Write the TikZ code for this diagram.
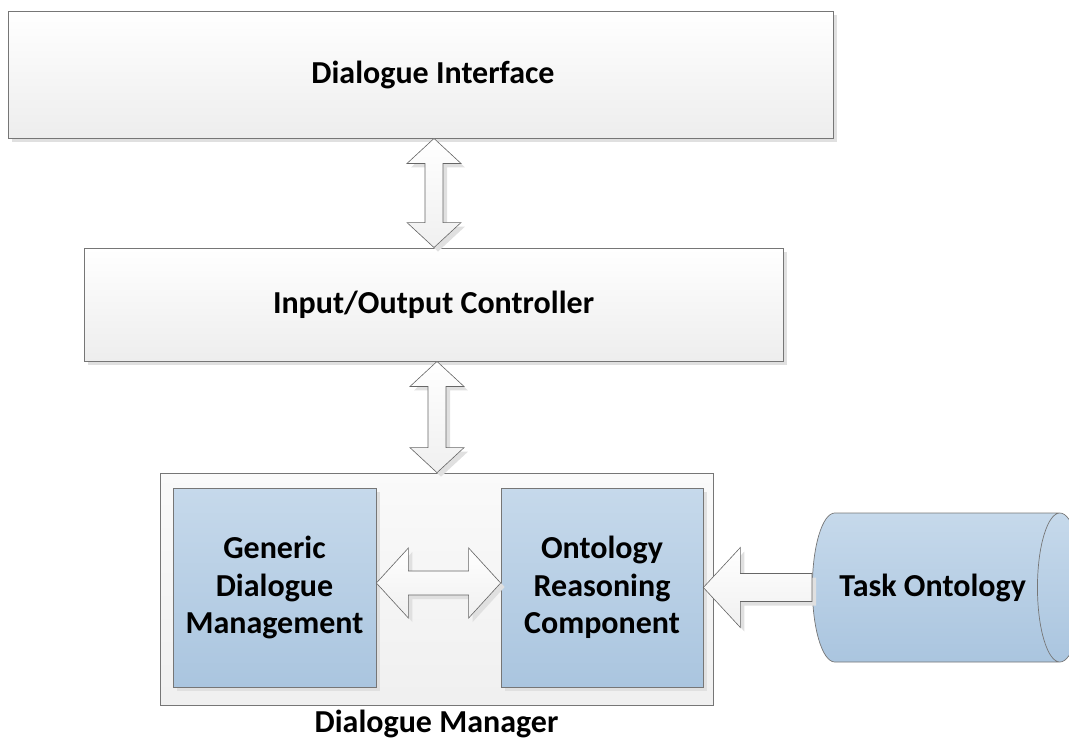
\documentclass[tikz,border=0pt]{standalone}
\usepackage{fontspec}
\setmainfont{Carlito}
\usetikzlibrary{positioning, shapes.geometric, shadows, calc}

\definecolor{boxline}{RGB}{118,118,118}
\definecolor{bluetop}{RGB}{198,217,235}
\definecolor{bluebot}{RGB}{170,197,223}

\tikzset{
    txt/.style={font=\bfseries\fontsize{32}{37.5}\selectfont, align=center},
    soft shadow/.style={drop shadow={shadow xshift=4pt, shadow yshift=-4pt, fill=black!12, opacity=1}},
    layer box/.style={txt, draw=boxline, line width=0.9pt, top color=white, bottom color=black!7, soft shadow},
    manager box/.style={draw=boxline, line width=0.7pt, top color=black!2, bottom color=black!6},
    part box/.style={txt, draw=boxline, line width=0.7pt, top color=bluetop, bottom color=bluebot, soft shadow},
    store/.style={txt, cylinder, draw=boxline, line width=0.7pt, top color=bluetop, bottom color=bluebot, aspect=1.3},
    fat arrow/.style={draw=black!60, line width=0.6pt, top color=white, bottom color=black!6, soft shadow}
}

% up/down arrow between two stacked boxes
\newcommand{\vfatarrow}[2]{%
    \draw[fat arrow] let \p1=(#1), \p2=(#2) in
        (\p1) -- (\x1+27pt,\y1-25pt) -- (\x1+9pt,\y1-25pt) -- (\x1+9pt,\y2+25pt)
        -- (\x1+27pt,\y2+25pt) -- (\p2) -- (\x1-27pt,\y2+25pt) -- (\x1-9pt,\y2+25pt)
        -- (\x1-9pt,\y1-25pt) -- (\x1-27pt,\y1-25pt) -- cycle;
}
% left/right arrow
\newcommand{\hfatarrow}[2]{%
    \draw[fat arrow] let \p1=(#1), \p2=(#2) in
        (\p1) -- (\x1+32pt,\y1+35pt) -- (\x1+32pt,\y1+12pt) -- (\x2-32pt,\y1+12pt)
        -- (\x2-32pt,\y1+35pt) -- (\p2) -- (\x2-32pt,\y1-35pt) -- (\x2-32pt,\y1-12pt)
        -- (\x1+32pt,\y1-12pt) -- (\x1+32pt,\y1-35pt) -- cycle;
}
% one-way arrow, tip on the left
\newcommand{\lfatarrow}[2]{%
    \draw[fat arrow] let \p1=(#1), \p2=(#2) in
        (\p1) -- (\x1+37pt,\y1+40pt) -- (\x1+37pt,\y1+14pt) -- (\x2,\y1+14pt)
        -- (\x2,\y1-14pt) -- (\x1+37pt,\y1-14pt) -- (\x1+37pt,\y1-40pt) -- cycle;
}

\begin{document}
\begin{tikzpicture}[x=1pt, y=-1pt]

    \useasboundingbox (0,0) rectangle (1069,747);

    \node[layer box, minimum width=825pt, minimum height=127pt,
          label={[txt, xshift=12.5pt]center:Dialogue Interface}] (di) at (420.5,74.5) {};
    \node[layer box, minimum width=699pt, minimum height=113pt] (io) at (433.5,304.5) {Input/Output Controller};

    \node[manager box, minimum width=553pt, minimum height=232pt] (dm) at (436.5,589) {};
    \node[txt, below=1pt of dm] (dmlabel) {Dialogue Manager};

    \node[part box, minimum width=203pt, minimum height=199pt] (gdm) at (274.5,587.5) {Generic\\Dialogue\\Management};
    \node[part box, minimum width=202pt, minimum height=199pt] (orc) at (602,587.5) {Ontology\\Reasoning\\Component};

    \node[store, minimum width=149pt, minimum height=270pt, anchor=west] (task) at (812,587.5) {Task Ontology};

    % arrows
    \coordinate (a1top) at ($(di.south)+(13.5,0)$);
    \coordinate (a1bot) at (a1top |- io.north);
    \coordinate (a2top) at ($(io.south)+(3.5,0)$);
    \coordinate (a2bot) at (a2top |- dm.north);
    \coordinate (h1left) at ($(gdm.east)+(0,-4.5)$);
    \coordinate (h1right) at (h1left -| orc.west);

    \vfatarrow{a1top}{a1bot}
    \vfatarrow{a2top}{a2bot}
    \hfatarrow{h1left}{h1right}
    \lfatarrow{orc.east}{task.west}

\end{tikzpicture}
\end{document}
